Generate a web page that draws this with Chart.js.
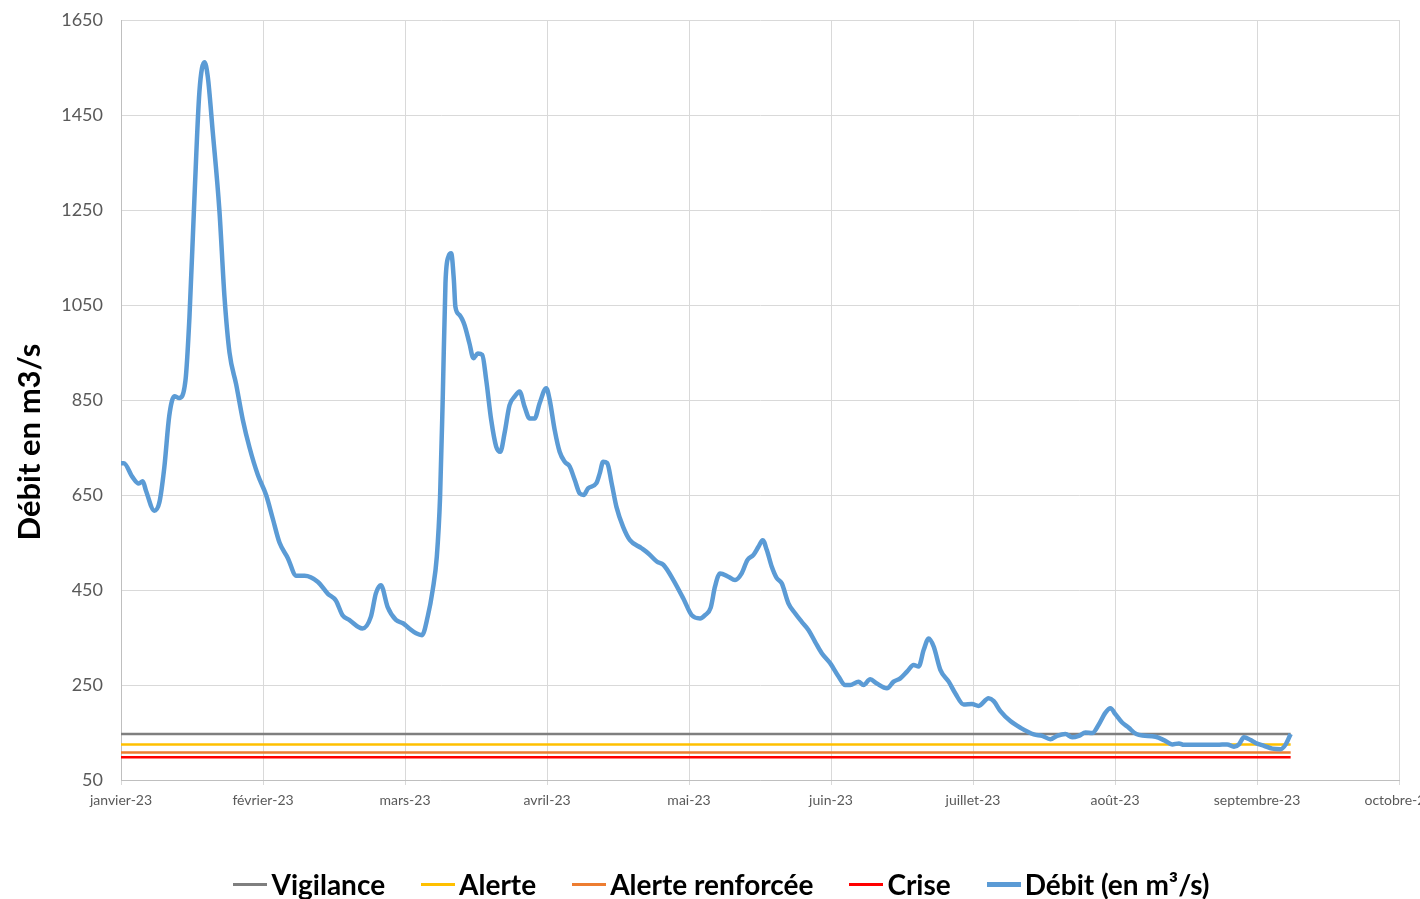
<!DOCTYPE html>
<html>
<head>
<meta charset="utf-8">
<script src="https://cdn.jsdelivr.net/npm/chart.js@4"></script>
<style>
  html, body { margin: 0; padding: 0; background: #fff; overflow: hidden; }
  #wrap { position: relative; width: 1420px; height: 899px; }
  #legend {
    position: absolute; left: 0; right: 0; top: 867px; height: 34px;
    display: flex; justify-content: center; align-items: center;
    padding-left: 23px; box-sizing: border-box;
    font: bold 28px Lato, "Open Sans", sans-serif; line-height: 34px; color: #000;
    white-space: nowrap;
  }
  #legend .item { display: flex; align-items: center; margin-right: 36px; }
  #legend .item:last-child { margin-right: 0; }
  #legend .line { display: inline-block; width: 34px; margin-right: 4px; }
</style>
</head>
<body>
<div id="wrap">
  <canvas id="chart"></canvas>
  <div id="legend"></div>
</div>
<script>
// month labels of the x axis (one per grid line)
const moisLabels = ["janvier-23", "février-23", "mars-23", "avril-23", "mai-23",
  "juin-23", "juillet-23", "août-23", "septembre-23", "octobre-23"];

// position of each reading, in months since 1 Jan 2023
const positions = [
  0.00, 0.02, 0.08, 0.125, 0.153, 0.176, 0.235, 0.27, 0.305, 0.34,
  0.376, 0.41, 0.454, 0.482, 0.517, 0.552, 0.588, 0.611, 0.646, 0.693,
  0.729, 0.764, 0.811, 0.858, 0.905, 0.964, 1.022, 1.069, 1.116, 1.175,
  1.234, 1.293, 1.387, 1.457, 1.513, 1.56, 1.607, 1.70, 1.76, 1.795,
  1.83, 1.878, 1.936, 1.986, 2.03, 2.078, 2.12, 2.16, 2.195, 2.224,
  2.247, 2.266, 2.285, 2.306, 2.325, 2.344, 2.355, 2.384, 2.419, 2.454,
  2.482, 2.513, 2.544, 2.572, 2.607, 2.642, 2.671, 2.701, 2.736, 2.772,
  2.807, 2.842, 2.878, 2.913, 2.948, 2.995, 3.019, 3.054, 3.089, 3.125,
  3.16, 3.195, 3.231, 3.259, 3.289, 3.348, 3.372, 3.395, 3.424, 3.455,
  3.489, 3.536, 3.584, 3.666, 3.714, 3.773, 3.82, 3.89, 3.96, 4.019,
  4.078, 4.113, 4.153, 4.183, 4.219, 4.277, 4.324, 4.371, 4.411, 4.454,
  4.489, 4.519, 4.548, 4.583, 4.618, 4.653, 4.70, 4.747, 4.794, 4.841,
  4.888, 4.935, 4.994, 5.053, 5.10, 5.135, 5.194, 5.229, 5.276, 5.323,
  5.394, 5.441, 5.488, 5.535, 5.582, 5.617, 5.653, 5.688, 5.723, 5.77,
  5.829, 5.876, 5.934, 5.993, 6.04, 6.11, 6.146, 6.193, 6.263, 6.334,
  6.428, 6.487, 6.545, 6.592, 6.651, 6.698, 6.745, 6.792, 6.84, 6.886,
  6.933, 6.968, 7.004, 7.05, 7.097, 7.133, 7.168, 7.286, 7.344, 7.403,
  7.45, 7.485, 7.579, 7.72, 7.79, 7.838, 7.873, 7.908, 7.955, 7.99,
  8.05, 8.108, 8.167, 8.202, 8.237
];

// débit in m3/s
const debit = [
  717, 717, 688, 674, 679, 659, 617, 634, 708, 817,
  858, 854, 891, 1024, 1274, 1498, 1561, 1531, 1415, 1249,
  1066, 950, 883, 808, 750, 692, 650, 600, 550, 517,
  480, 480, 467, 442, 428, 397, 387, 369, 394, 443,
  460, 414, 387, 380, 369, 359, 355, 394, 450, 520,
  646, 857, 1096, 1152, 1159, 1103, 1046, 1029, 1008, 969,
  938, 948, 945, 892, 808, 752, 741, 780, 839, 857,
  868, 836, 811, 811, 843, 875, 850, 787, 741, 720,
  710, 682, 653, 650, 664, 675, 696, 720, 717, 675,
  625, 583, 555, 538, 527, 510, 503, 471, 432, 397,
  390, 397, 413, 457, 485, 478, 471, 485, 513, 524,
  541, 555, 534, 499, 475, 464, 422, 401, 383, 366,
  341, 317, 296, 268, 250, 250, 257, 250, 262, 253,
  243, 257, 264, 278, 292, 289, 324, 348, 331, 282,
  257, 232, 209, 210, 206, 222, 216, 195, 174, 160,
  146, 143, 136, 143, 147, 140, 143, 150, 149, 167,
  192, 201, 188, 171, 160, 150, 145, 141, 134, 125,
  127, 124, 124, 124, 125, 120, 125, 140, 134, 128,
  122, 116, 115, 125, 147
];

// thresholds, drawn over the same period as the readings
const seuilX = [0, 8.237];
const vigilance = [147, 147];
const alerte = [125, 125];
const alerteRenforcee = [108, 108];
const crise = [98, 98];

const yTicks = [50, 250, 450, 650, 850, 1050, 1250, 1450, 1650];
const yTitle = "Débit en m3/s";

function pts(xs, ys) {
  return xs.map((x, i) => ({ x: x, y: ys[i] }));
}

function seuil(label, values, color) {
  return {
    label: label,
    data: pts(seuilX, values),
    borderColor: color,
    backgroundColor: color,
    borderWidth: 2.5,
    pointRadius: 0,
    order: 1
  };
}

const fontFamily = "Lato, 'Open Sans', sans-serif";

// y axis title, drawn a bit below the middle like in the original workbook
const yTitlePlugin = {
  id: "yTitle",
  afterDraw(chart) {
    const ctx = chart.ctx;
    const area = chart.chartArea;
    ctx.save();
    ctx.translate(30, (area.top + area.bottom) / 2 + 42);
    ctx.rotate(-Math.PI / 2);
    ctx.font = "bold 31px " + fontFamily;
    ctx.fillStyle = "#000";
    ctx.textAlign = "center";
    ctx.textBaseline = "middle";
    ctx.fillText(yTitle, 0, 0);
    ctx.restore();
  }
};

const chart = new Chart(document.getElementById("chart"), {
  type: "line",
  data: {
    datasets: [
      seuil("Vigilance", vigilance, "#7f7f7f"),
      seuil("Alerte", alerte, "#ffc000"),
      seuil("Alerte renforcée", alerteRenforcee, "#ed7d31"),
      seuil("Crise", crise, "#ff0000"),
      {
        label: "Débit (en m³/s)",
        data: pts(positions, debit),
        borderColor: "#5b9bd5",
        backgroundColor: "#5b9bd5",
        borderWidth: 4.5,
        pointRadius: 0,
        cubicInterpolationMode: "monotone",
        order: 0
      }
    ]
  },
  plugins: [yTitlePlugin],
  options: {
    responsive: true,
    maintainAspectRatio: false,
    animation: false,
    layout: { padding: { top: 20, right: 21, left: 0, bottom: 0 } },
    plugins: {
      tooltip: { enabled: false },
      legend: { display: false }
    },
    scales: {
      x: {
        type: "linear",
        min: 0,
        max: 9,
        afterBuildTicks: scale => {
          scale.ticks = moisLabels.map((_, i) => ({ value: i }));
        },
        afterFit: scale => {
          scale.paddingLeft = 0;
          scale.paddingRight = 0;
          scale.height = 119;
        },
        ticks: {
          autoSkip: false,
          maxRotation: 0,
          padding: 7,
          color: "#595959",
          font: { family: fontFamily, size: 14 },
          callback: value => moisLabels[value]
        },
        grid: { color: "#d9d9d9", tickLength: 5 },
        border: { color: "#bfbfbf" }
      },
      y: {
        min: 50,
        max: 1650,
        afterBuildTicks: scale => {
          scale.ticks = yTicks.map(v => ({ value: v }));
        },
        afterFit: scale => {
          scale.width = 121;
          scale.paddingTop = 0;
          scale.paddingBottom = 0;
        },
        ticks: {
          padding: 18,
          color: "#595959",
          font: { family: fontFamily, size: 18 },
          callback: value => String(value)
        },
        grid: { color: "#d9d9d9", drawTicks: false },
        border: { color: "#bfbfbf" }
      }
    }
  }
});

// legend built from the datasets
const legend = document.getElementById("legend");
chart.data.datasets.forEach(ds => {
  const item = document.createElement("span");
  item.className = "item";
  const line = document.createElement("span");
  line.className = "line";
  line.style.height = Math.round(ds.borderWidth) + "px";
  line.style.background = ds.borderColor;
  const text = document.createElement("span");
  text.textContent = ds.label;
  item.appendChild(line);
  item.appendChild(text);
  legend.appendChild(item);
});
</script>
</body>
</html>
